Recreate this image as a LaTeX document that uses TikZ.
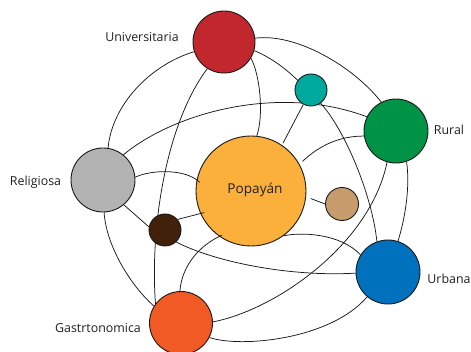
\documentclass[tikz,border=0pt]{standalone}
\usepackage{fontspec}
\setmainfont{Open Sans}
\pgfdeclarelayer{bg}
\pgfsetlayers{bg,main}
\definecolor{cU}{HTML}{C1272D}
\definecolor{cT}{HTML}{00A99D}
\definecolor{cR}{HTML}{009245}
\definecolor{cG}{HTML}{B3B3B3}
\definecolor{cP}{HTML}{FBB03B}
\definecolor{cTan}{HTML}{C69C6D}
\definecolor{cD}{HTML}{42210B}
\definecolor{cO}{HTML}{F15A24}
\definecolor{cB}{HTML}{0071BC}
\definecolor{txt}{HTML}{231F20}
\begin{document}
\begin{tikzpicture}[x=1pt,y=-1pt,
 bubble/.style={circle, draw=black!90, line width=0.9pt, inner sep=0pt},
 link/.style={draw=black!90, line width=0.75pt},
 lbl/.style={font=\fontsize{12.4}{14}\selectfont, text=txt, inner sep=0pt}]
\useasboundingbox (0,0) rectangle (471,352);
% circles
\node[bubble, fill=cU, minimum size=62pt] (U) at (224,42) {};
\node[bubble, fill=cT, minimum size=32pt] (T) at (311,90) {};
\node[bubble, fill=cR, minimum size=64pt] (R) at (396,131) {};
\node[bubble, fill=cG, minimum size=64pt] (G) at (103,180) {};
\node[bubble, fill=cP, minimum size=110pt] (P) at (251,191) {};
\node[bubble, fill=cTan, minimum size=33pt] (Tan) at (342,204) {};
\node[bubble, fill=cD, minimum size=32pt] (D) at (165,230) {};
\node[bubble, fill=cO, minimum size=63pt] (O) at (181,323) {};
\node[bubble, fill=cB, minimum size=64pt] (B) at (388,272) {};
% labels
\node[lbl, font=\fontsize{13.6}{16}\selectfont] (lP) at (255,190) {Popayán};
\node[lbl] (lU) at (142,37) {Universitaria};
\node[lbl] (lR) at (449,130) {Rural};
\node[lbl] (lG) at (35.5,182) {Religiosa};
\node[lbl] (lO) at (98,328) {Gastrtonomica};
\node[lbl] (lB) at (449,279) {Urbana};
% connectors behind circles
\begin{pgfonlayer}{bg}
\draw[link] (U.7) .. controls (295,33) and (352,65) .. (R.117);
\draw[link] (U.198) .. controls (150,65) and (112,105) .. (G.81);
\draw[link] (U.238) .. controls (165,125) and (150,230) .. (O.143);
\draw[link] (U.329) .. controls (260,75) and (264,115) .. (P.84);
\draw[link] (U.344) .. controls (270,57) and (285,68) .. (T.144);
\draw[link, shorten >=2pt] (T.242) -- (P.56);
\draw[link] (G.51) .. controls (175,112) and (280,84) .. (R.154);
\draw[link] (T.306) .. controls (345,130) and (372,195) .. (B.110);
\draw[link, shorten <=4pt] (P.29) .. controls (320,145) and (340,136) .. (R.189);
\draw[link] (R.254) .. controls (370,245) and (275,310) .. (O.2);
\draw[link] (R.289) .. controls (410,185) and (406,215) .. (B.72);
\draw[link] (G.272) .. controls (106,245) and (130,285) .. (O.148);
\draw[link] (G.310) -- (D.169);
\draw[link] (D.313) .. controls (215,262) and (290,277) .. (B.182);
\draw[link] (O.333) .. controls (240,348) and (330,340) .. (B.230);
\draw[link] (P.306) .. controls (300,232) and (340,233) .. (B.148);
\draw[link, shorten <=5pt] (P.354) -- (Tan.180);
\end{pgfonlayer}
% connectors that overlap Popayan
\draw[link, shorten >=-4pt] (D.40) -- (P.204);
\draw[link, shorten >=-4pt] (G.5) .. controls (150,170) and (185,168) .. (P.168);
\draw[link, shorten >=-3pt] (O.92) .. controls (182,265) and (200,245) .. (P.235);
\end{tikzpicture}
\end{document}
